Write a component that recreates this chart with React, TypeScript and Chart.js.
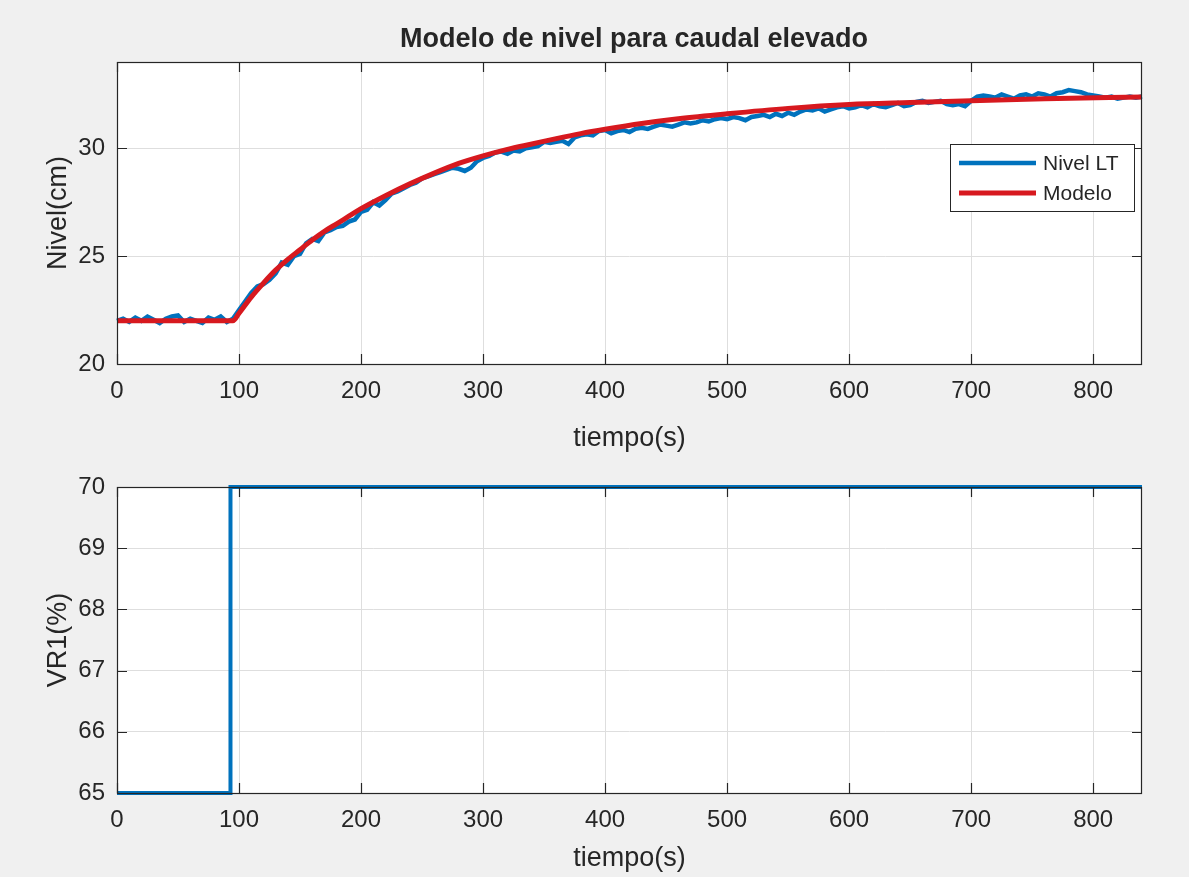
import React, { useEffect, useRef } from 'react';
import { Chart, registerables } from 'chart.js';

Chart.register(...registerables);

// ---------- data ----------
const SAMPLE_PERIOD = 5; // s, sampling of the measured level

// Nivel LT measured (cm), one value every 5 s from t = 0 to t = 840
const nivelLT = [
  22.0, 22.1, 21.95, 22.15, 22.0, 22.2, 22.05, 21.9, 22.1, 22.2,
  22.25, 21.95, 22.1, 22.0, 21.9, 22.15, 22.05, 22.2, 21.95, 22.1,
  22.5, 22.9, 23.3, 23.6, 23.7, 23.9, 24.2, 24.7, 24.6, 25.0,
  25.1, 25.6, 25.8, 25.7, 26.1, 26.2, 26.35, 26.4, 26.6, 26.7,
  27.05, 27.15, 27.5, 27.35, 27.6, 27.9, 28.0, 28.15, 28.3, 28.4,
  28.6, 28.7, 28.8, 28.9, 29.0, 29.1, 29.05, 28.95, 29.1, 29.4,
  29.55, 29.65, 29.8, 29.85, 29.75, 29.9, 29.85, 30.0, 30.05, 30.1,
  30.3, 30.25, 30.3, 30.35, 30.2, 30.5, 30.6, 30.65, 30.6, 30.8,
  30.85, 30.7, 30.8, 30.85, 30.75, 30.9, 30.95, 30.9, 31.0, 31.1,
  31.05, 31.0, 31.1, 31.2, 31.15, 31.2, 31.3, 31.25, 31.35, 31.4,
  31.35, 31.45, 31.4, 31.3, 31.45, 31.5, 31.55, 31.45, 31.6, 31.5,
  31.65, 31.55, 31.7, 31.8, 31.75, 31.85, 31.7, 31.8, 31.9, 31.95,
  31.85, 31.9, 32.0, 31.9, 32.05, 31.95, 31.9, 32.0, 32.1, 31.95,
  32.0, 32.15, 32.2, 32.1, 32.15, 32.2, 32.05, 32.0, 32.05, 31.95,
  32.2, 32.4, 32.45, 32.4, 32.35, 32.5, 32.4, 32.3, 32.45, 32.5,
  32.4, 32.55, 32.5, 32.4, 32.55, 32.6, 32.7, 32.65, 32.6, 32.5,
  32.45, 32.4, 32.35, 32.4, 32.3, 32.35, 32.4, 32.35, 32.4,
];

// Modelo (cm)
const modeloTimes = [
  0, 95, 100, 110, 120, 130, 140, 150, 160, 170, 180, 190, 200, 220, 240,
  260, 280, 300, 320, 340, 360, 380, 400, 430, 460, 500, 550, 600, 650,
  700, 760, 840,
];
const modeloValues = [
  22.0, 22.0, 22.35, 23.1, 23.75, 24.35, 24.85, 25.3, 25.75, 26.15, 26.5,
  26.85, 27.2, 27.8, 28.35, 28.85, 29.3, 29.65, 29.95, 30.2, 30.45, 30.68,
  30.88, 31.15, 31.37, 31.6, 31.85, 32.03, 32.12, 32.2, 32.3, 32.38,
];

// VR1 (%)
const vr1Times = [0, 93, 840];
const vr1Values = [65, 70, 70];

const xTicks = [0, 100, 200, 300, 400, 500, 600, 700, 800];
const nivelTicks = [20, 25, 30];
const vr1Ticks = [65, 66, 67, 68, 69, 70];

const TITLE = 'Modelo de nivel para caudal elevado';
const X_LABEL = 'tiempo(s)';
const Y1_LABEL = 'Nivel(cm)';
const Y2_LABEL = 'VR1(%)';
const LEGEND_LABELS = ['Nivel LT', 'Modelo'];

// ---------- style ----------
const FONT = '"Liberation Sans", Arial, Helvetica, sans-serif';
const TEXT = '#262626';
const BLUE = '#0072BD';
const RED = '#D7191F';
const GRID = '#dedede';
const W = 1189;
const TOP_H = 460;
const BOT_H = 877 - TOP_H;

type Extra = {
  title?: string;
  xLabel: string;
  yLabel: string;
  yLabelCenter: number;
  xLabelBaseline: number;
  legend?: boolean;
};

const matlabPlugin = {
  id: 'matlabLook',
  beforeDraw(chart: any) {
    const { ctx, chartArea: a } = chart;
    ctx.save();
    ctx.fillStyle = '#ffffff';
    ctx.fillRect(a.left, a.top, a.right - a.left, a.bottom - a.top);
    ctx.restore();
  },
  afterDraw(chart: any) {
    const ex: Extra = chart.options.plugins.matlabLook;
    const { ctx, chartArea: a, scales } = chart;
    ctx.save();
    // box
    ctx.strokeStyle = TEXT;
    ctx.lineWidth = 1.2;
    ctx.strokeRect(a.left + 0.5, a.top + 0.5, a.right - a.left - 1, a.bottom - a.top);
    // inward ticks
    const TL = 10;
    ctx.beginPath();
    scales.x.ticks.forEach((t: any) => {
      const px = Math.round(scales.x.getPixelForValue(t.value)) + 0.5;
      ctx.moveTo(px, a.bottom);
      ctx.lineTo(px, a.bottom - TL);
      ctx.moveTo(px, a.top);
      ctx.lineTo(px, a.top + TL);
    });
    scales.y.ticks.forEach((t: any) => {
      const py = Math.round(scales.y.getPixelForValue(t.value)) + 0.5;
      ctx.moveTo(a.left, py);
      ctx.lineTo(a.left + TL, py);
      ctx.moveTo(a.right, py);
      ctx.lineTo(a.right - TL, py);
    });
    ctx.stroke();

    ctx.fillStyle = TEXT;
    // title
    if (ex.title) {
      ctx.font = `bold 27px ${FONT}`;
      ctx.textAlign = 'center';
      ctx.textBaseline = 'alphabetic';
      ctx.fillText(ex.title, 634, 47);
    }
    // x label
    ctx.font = `27px ${FONT}`;
    ctx.textAlign = 'center';
    ctx.textBaseline = 'alphabetic';
    ctx.fillText(ex.xLabel, (a.left + a.right) / 2, ex.xLabelBaseline);
    // y label
    ctx.save();
    ctx.translate(66, ex.yLabelCenter);
    ctx.rotate(-Math.PI / 2);
    ctx.fillText(ex.yLabel, 0, 0);
    ctx.restore();

    // legend
    if (ex.legend) {
      const lx = 950, ly = 144, lw = 184, lh = 67;
      ctx.fillStyle = '#ffffff';
      ctx.fillRect(lx, ly, lw, lh);
      ctx.strokeStyle = TEXT;
      ctx.lineWidth = 1;
      ctx.strokeRect(lx + 0.5, ly + 0.5, lw, lh);
      const ds = chart.data.datasets;
      const rows = [163, 193];
      ds.forEach((d: any, i: number) => {
        ctx.strokeStyle = d.borderColor;
        ctx.lineWidth = d.borderWidth;
        ctx.beginPath();
        ctx.moveTo(959, rows[i]);
        ctx.lineTo(1036, rows[i]);
        ctx.stroke();
        ctx.fillStyle = TEXT;
        ctx.font = `21px ${FONT}`;
        ctx.textAlign = 'left';
        ctx.textBaseline = 'middle';
        ctx.fillText(LEGEND_LABELS[i], 1043, rows[i] + 1);
      });
    }
    ctx.restore();
  },
};

function makeOptions(opts: {
  yMin: number;
  yMax: number;
  yTicks: number[];
  topPad: number;
  xScaleHeight: number;
  extra: Extra;
}) {
  return {
    animation: false,
    responsive: false,
    maintainAspectRatio: false,
    devicePixelRatio: 1,
    layout: { padding: { top: opts.topPad, right: W - 1142, left: 0, bottom: 0 } },
    plugins: {
      legend: { display: false },
      title: { display: false },
      tooltip: { enabled: false },
      matlabLook: opts.extra,
    },
    scales: {
      x: {
        type: 'linear',
        min: 0,
        max: 840,
        afterBuildTicks: (s: any) => {
          s.ticks = xTicks.map((v) => ({ value: v }));
        },
        afterFit: (s: any) => {
          s.height = opts.xScaleHeight;
        },
        grid: { color: GRID, lineWidth: 1, drawTicks: false },
        border: { display: false },
        ticks: {
          color: TEXT,
          font: { family: FONT, size: 24 },
          padding: 13,
          maxRotation: 0,
          autoSkip: false,
          callback: (v: any) => String(v),
        },
      },
      y: {
        type: 'linear',
        min: opts.yMin,
        max: opts.yMax,
        afterBuildTicks: (s: any) => {
          s.ticks = opts.yTicks.map((v) => ({ value: v }));
        },
        afterFit: (s: any) => {
          s.width = 117;
        },
        grid: { color: GRID, lineWidth: 1, drawTicks: false },
        border: { display: false },
        ticks: {
          color: TEXT,
          font: { family: FONT, size: 24 },
          padding: 12,
          autoSkip: false,
          callback: (v: any) => String(v),
        },
      },
    },
  };
}

export default function App() {
  const topRef = useRef<HTMLCanvasElement | null>(null);
  const botRef = useRef<HTMLCanvasElement | null>(null);

  useEffect(() => {
    const nivelData = nivelLT.map((y, i) => ({ x: i * SAMPLE_PERIOD, y }));
    const modeloData = modeloTimes.map((x, i) => ({ x, y: modeloValues[i] }));
    const vr1Data = vr1Times.map((x, i) => ({ x, y: vr1Values[i] }));

    const top = new Chart(topRef.current as HTMLCanvasElement, {
      type: 'line',
      data: {
        datasets: [
          {
            label: LEGEND_LABELS[0],
            data: nivelData,
            borderColor: BLUE,
            borderWidth: 4.5,
            pointRadius: 0,
            tension: 0,
            order: 2,
            clip: 6,
          },
          {
            label: LEGEND_LABELS[1],
            data: modeloData,
            borderColor: RED,
            borderWidth: 5,
            pointRadius: 0,
            tension: 0.35,
            cubicInterpolationMode: 'monotone',
            order: 1,
            clip: 6,
          },
        ],
      },
      options: makeOptions({
        yMin: 20,
        yMax: 34,
        yTicks: nivelTicks,
        topPad: 62,
        xScaleHeight: TOP_H - 364,
        extra: {
          title: TITLE,
          xLabel: X_LABEL,
          yLabel: Y1_LABEL,
          yLabelCenter: 213,
          xLabelBaseline: 446,
          legend: true,
        },
      }) as any,
      plugins: [matlabPlugin],
    });

    const bot = new Chart(botRef.current as HTMLCanvasElement, {
      type: 'line',
      data: {
        datasets: [
          {
            label: 'VR1',
            data: vr1Data,
            borderColor: BLUE,
            borderWidth: 4,
            pointRadius: 0,
            stepped: 'before',
            clip: 6,
          },
        ],
      },
      options: makeOptions({
        yMin: 65,
        yMax: 70,
        yTicks: vr1Ticks,
        topPad: 487 - TOP_H,
        xScaleHeight: BOT_H - (793 - TOP_H),
        extra: {
          xLabel: X_LABEL,
          yLabel: Y2_LABEL,
          yLabelCenter: 640 - TOP_H,
          xLabelBaseline: 866 - TOP_H,
        },
      }) as any,
      plugins: [matlabPlugin],
    });

    return () => {
      top.destroy();
      bot.destroy();
    };
  }, []);

  return (
    <div
      style={{
        position: 'fixed',
        left: 0,
        top: 0,
        width: W,
        height: 877,
        background: '#f0f0f0',
        overflow: 'hidden',
      }}
    >
      <canvas
        ref={topRef}
        width={W}
        height={TOP_H}
        style={{ position: 'absolute', left: 0, top: 0, width: W, height: TOP_H }}
      />
      <canvas
        ref={botRef}
        width={W}
        height={BOT_H}
        style={{ position: 'absolute', left: 0, top: TOP_H, width: W, height: BOT_H }}
      />
    </div>
  );
}
